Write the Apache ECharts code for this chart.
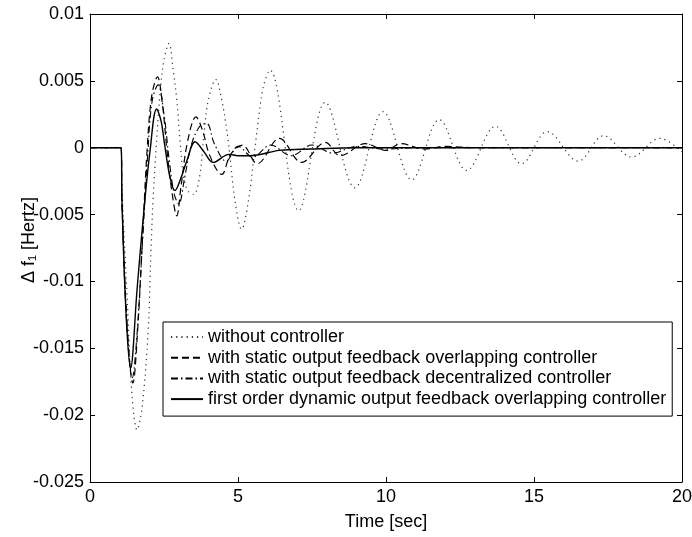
<!DOCTYPE html>
<html>
<head>
<meta charset="utf-8">
<title>Frequency deviation response</title>
<script src="https://cdn.jsdelivr.net/npm/echarts@6/dist/echarts.min.js"></script>
<style>
  html, body { margin: 0; padding: 0; background: #fff; }
  #chart { width: 692px; height: 537px; }
</style>
</head>
<body>
<div id="chart"></div>
<script>
// Legend entries, in drawing order
const seriesNames = [
  'without controller',
  'with static output feedback overlapping controller',
  'with static output feedback decentralized controller',
  'first order dynamic output feedback overlapping controller'
];

// Axis ticks
const timeTicks = [0, 5, 10, 15, 20];
const freqTickLabels = ['-0.025', '-0.02', '-0.015', '-0.01', '-0.005', '0', '0.005', '0.01'];

// Δf1 [Hz] against time [s]
const withoutController = [
  [0, 0], [1.05, 0], [1.08, -0.003], [1.25, -0.011], [1.42, -0.0185], [1.59, -0.0211],
  [1.75, -0.0196], [1.96, -0.0139], [2.06, -0.0077], [2.13, -0.0039], [2.23, -0.0002],
  [2.36, 0.0039], [2.5, 0.0066], [2.67, 0.0078], [2.81, 0.0058], [2.93, 0.0036],
  [3.04, 0.0006], [3.15, -0.0020], [3.3, -0.0032], [3.5, -0.0035], [3.7, -0.0022],
  [3.85, 0.0010], [4.0, 0.0036], [4.25, 0.0051], [4.45, 0.0036], [4.67, 0.0005],
  [4.9, -0.0040], [5.12, -0.0061], [5.35, -0.0040], [5.6, 0.0005], [5.85, 0.0045],
  [6.08, 0.0058], [7.05, -0.0047], [7.95, 0.0034], [8.95, -0.0030], [9.9, 0.0027],
  [10.87, -0.0024], [11.8, 0.0021], [12.73, -0.0017], [13.7, 0.0016], [14.58, -0.0012],
  [15.45, 0.0012], [16.5, -0.0010], [17.35, 0.0009], [18.3, -0.0007], [19.25, 0.0007],
  [20, -0.0003]
];

const staticOverlapping = [
  [0, 0], [1.05, 0], [1.08, -0.004], [1.25, -0.0135], [1.45, -0.0176], [1.6, -0.014],
  [1.78, -0.0065], [1.92, -0.0005], [2.08, 0.0038], [2.28, 0.0053], [2.45, 0.0032],
  [2.6, -0.0002], [2.78, -0.0035], [2.93, -0.0051], [3.08, -0.0028], [3.3, 0.0005],
  [3.58, 0.0023], [3.8, 0.0013], [4.05, -0.0006], [4.45, -0.0020], [4.75, -0.0005],
  [5.15, 0.0002], [5.65, -0.0012], [6.4, 0.0007], [7.15, -0.0011], [7.95, 0.0004],
  [8.45, -0.0006], [9.3, 0.0003], [10.0, -0.0002], [10.5, 0.0003], [11.3, -0.0001],
  [12, 0.0001], [13, 0], [20, 0]
];

const staticDecentralized = [
  [0, 0], [1.05, 0], [1.08, -0.004], [1.25, -0.013], [1.43, -0.0172], [1.58, -0.0142],
  [1.78, -0.0068], [1.95, -0.0005], [2.1, 0.0035], [2.3, 0.0047], [2.5, 0.0025],
  [2.68, -0.0010], [2.85, -0.0035], [3.0, -0.0042], [3.2, -0.0022], [3.45, 0.0004],
  [3.75, 0.0017], [3.95, 0.0018], [4.2, 0.0003], [4.6, -0.0010], [5.0, 0.0001],
  [5.5, -0.0007], [6.1, 0.0002], [6.8, -0.0006], [7.5, 0.0002], [8.2, -0.0004],
  [9.0, 0.0001], [10, -0.0001], [11, 0], [20, 0]
];

const dynamicOverlapping = [
  [0, 0], [1.05, 0], [1.08, -0.004], [1.22, -0.0125], [1.37, -0.0165], [1.59, -0.0106],
  [1.82, -0.0047], [2.03, -0.0002], [2.25, 0.0029], [2.4, 0.0020], [2.53, 0.0001],
  [2.7, -0.0022], [2.87, -0.0032], [3.05, -0.0024], [3.27, -0.0010], [3.55, 0.00045],
  [3.85, -0.0003], [4.16, -0.0011], [4.7, -0.0005], [5.0, -0.0006], [5.4, -0.0006],
  [6.4, -0.0002], [7.5, -0.0001], [9, 0], [20, 0]
];

const FONT = '"Liberation Sans", Arial, Helvetica, sans-serif';
const FS = 18;
const INK = '#000';

const chart = echarts.init(document.getElementById('chart'), null, { renderer: 'canvas' });

const tickLabel = v => {
  const i = Math.round((v + 0.025) / 0.005);
  return freqTickLabels[i] !== undefined ? freqTickLabels[i] : '';
};

// Shared look of the four sides of the box: plain line, short inward ticks
const frameAxis = () => ({
  axisLine: { show: true, onZero: false, lineStyle: { color: INK, width: 1 } },
  axisTick: { show: true, inside: true, length: 5, lineStyle: { color: INK, width: 1 } },
  splitLine: { show: false },
  axisLabel: { show: false },
  nameMoveOverlap: false
});

const lineStyles = [
  { type: [1.2, 4], width: 1.2, color: '#333' },
  { type: [7, 4], width: 1.2, color: INK },
  { type: [7, 3, 1.5, 3], width: 1.1, color: INK },
  { type: 'solid', width: 1.4, color: INK }
];

const dataSets = [withoutController, staticOverlapping, staticDecentralized, dynamicOverlapping];

chart.setOption({
  animation: false,
  backgroundColor: '#fff',
  grid: { left: 90, top: 14, right: 10, bottom: 55, containLabel: false, outerBoundsMode: 'none' },
  xAxis: [
    Object.assign(frameAxis(), {
      type: 'value', position: 'bottom',
      min: timeTicks[0], max: timeTicks[timeTicks.length - 1], interval: timeTicks[1] - timeTicks[0],
      name: 'Time [sec]', nameLocation: 'middle', nameGap: 31,
      nameTextStyle: { fontFamily: FONT, fontSize: FS, color: INK },
      axisLabel: { show: true, margin: 6, fontFamily: FONT, fontSize: FS, color: INK, formatter: v => String(v) }
    }),
    Object.assign(frameAxis(), {
      type: 'value', position: 'top', min: 0, max: 20, interval: 5
    })
  ],
  yAxis: [
    Object.assign(frameAxis(), {
      type: 'value', position: 'left', min: -0.025, max: 0.01, interval: 0.005,
      name: 'Δ f\u2081 [Hertz]', nameLocation: 'middle', nameGap: 52,
      nameTextStyle: { fontFamily: FONT, fontSize: FS, color: INK, padding: [0, 0, 0, 16] },
      axisLabel: { show: true, margin: 6, fontFamily: FONT, fontSize: FS, color: INK, formatter: tickLabel }
    }),
    Object.assign(frameAxis(), {
      type: 'value', position: 'right', min: -0.025, max: 0.01, interval: 0.005
    })
  ],
  legend: {
    orient: 'vertical',
    left: 163, top: 322,
    data: seriesNames,
    backgroundColor: '#fff',
    borderColor: INK, borderWidth: 1, borderRadius: 0,
    padding: [6, 6, 8, 7],
    itemWidth: 32, itemHeight: 14, itemGap: 2.7, itemTextGap: 10,
    itemStyle: { opacity: 0 },
    textStyle: { fontFamily: FONT, fontSize: FS, color: INK },
    selectedMode: false
  },
  series: dataSets.map((d, i) => ({
    name: seriesNames[i],
    type: 'line',
    data: d,
    xAxisIndex: 0, yAxisIndex: 0,
    symbol: 'none', showSymbol: false,
    smooth: 0.36,
    lineStyle: lineStyles[i],
    itemStyle: { color: lineStyles[i].color },
    z: 2 + i
  }))
});
</script>
</body>
</html>
